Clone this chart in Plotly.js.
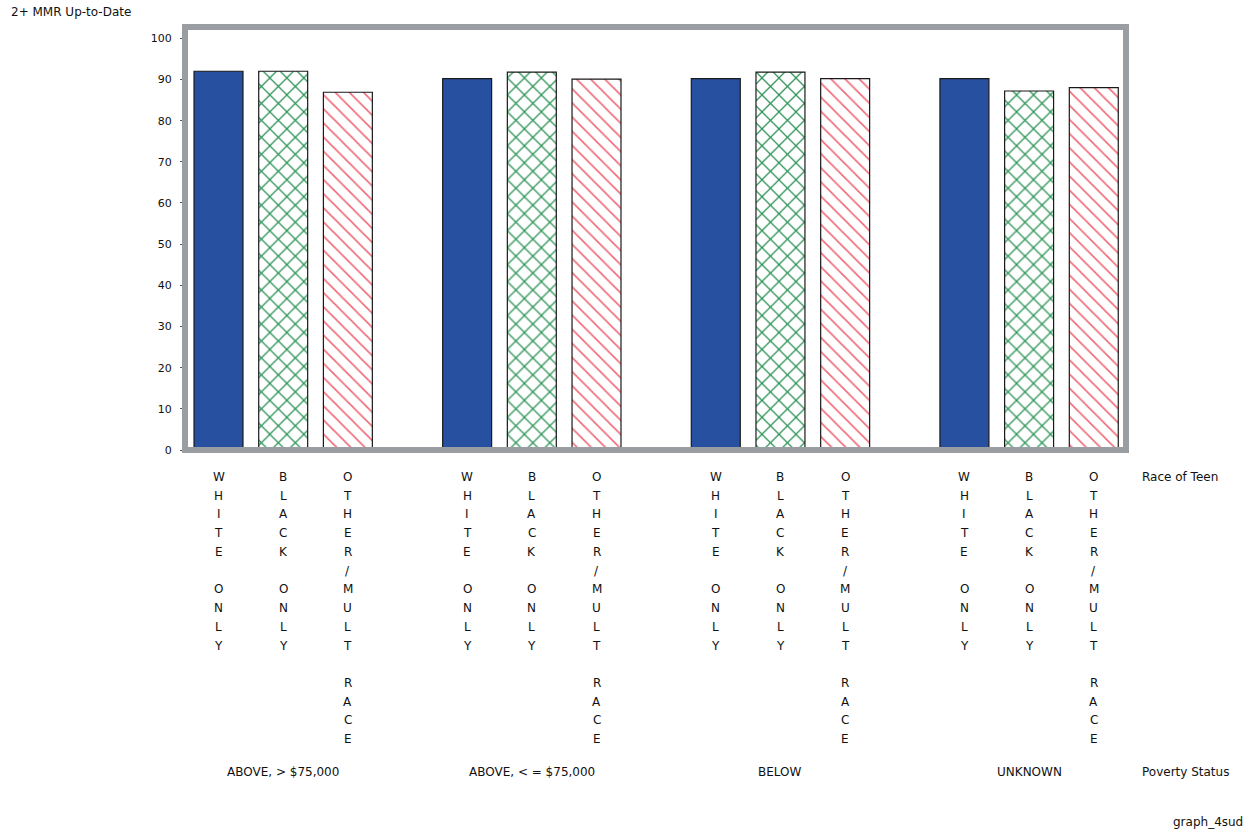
<!DOCTYPE html>
<html>
<head>
<meta charset="utf-8">
<script src="https://cdn.plot.ly/plotly-3.0.1.min.js"></script>
<style>
html,body{margin:0;padding:0;background:#fff;}
#chart{width:1250px;height:833px;}
</style>
</head>
<body>
<div id="chart"></div>
<script>
// ---- data ----
const povertyGroups = ['ABOVE, > $75,000', 'ABOVE, < = $75,000', 'BELOW', 'UNKNOWN'];
const raceLabels = ['WHITE ONLY', 'BLACK ONLY', 'OTHER/MULT RACE'];
const whiteOnly = [92.0, 90.2, 90.2, 90.2];
const blackOnly = [92.0, 91.8, 91.8, 87.2];
const otherMult = [86.9, 90.1, 90.2, 88.0];
const yTickVals = [0, 10, 20, 30, 40, 50, 60, 70, 80, 90, 100];
const yAxisTitle = '2+ MMR Up-to-Date';
const raceAxisTitle = 'Race of Teen';
const groupAxisTitle = 'Poverty Status';
const footnote = 'graph_4sud';

// ---- layout helpers ----
const groupPitch = 3.844;
const barWidth = 0.757;
const FONT = 'DejaVu Sans, Liberation Sans, sans-serif';
const plotTop = 27, plotBottom = 450;
const plotH = plotBottom - plotTop;
function pyToPaper(py) { return (plotBottom - py) / plotH; }
function xPos(g, r) { return g * groupPitch + r; }

const seriesValues = [whiteOnly, blackOnly, otherMult];
const markerStyles = [
  {color: '#2850A0', line: {color: '#1a1a1a', width: 1.2}},
  {color: '#ffffff', line: {color: '#1a1a1a', width: 1.2},
   pattern: {shape: 'x', fgcolor: '#2E9458', bgcolor: '#ffffff', size: 12, solidity: 0.2}},
  {color: '#ffffff', line: {color: '#1a1a1a', width: 1.2},
   pattern: {shape: '\\', fgcolor: '#F06A78', bgcolor: '#ffffff', size: 10, solidity: 0.16}}
];

const traces = raceLabels.map((race, r) => ({
  type: 'bar',
  name: race,
  x: povertyGroups.map((_, g) => xPos(g, r)),
  y: seriesValues[r],
  width: barWidth,
  marker: markerStyles[r],
  hoverinfo: 'y',
  showlegend: false
}));

const LBL = {family: FONT, size: 12, color: '#111'};
const annotations = [];
const letterStart = 477, letterStep = 18.73;
povertyGroups.forEach((grp, g) => {
  raceLabels.forEach((race, r) => {
    race.split('').forEach((ch, i) => {
      if (ch === ' ') return;
      annotations.push({
        xref: 'x', yref: 'paper', x: xPos(g, r), y: pyToPaper(letterStart + i * letterStep),
        text: ch, showarrow: false, xanchor: 'center', yanchor: 'middle', font: LBL
      });
    });
  });
  annotations.push({
    xref: 'x', yref: 'paper', x: xPos(g, 1), y: pyToPaper(772),
    text: grp, showarrow: false, xanchor: 'center', yanchor: 'middle', font: LBL
  });
});
const pxToPaperX = px => (px - 185) / (1126 - 185);
annotations.push({
  xref: 'paper', yref: 'paper', x: pxToPaperX(1140), y: pyToPaper(477),
  text: raceAxisTitle, showarrow: false, xanchor: 'left', yanchor: 'middle', font: LBL
});
annotations.push({
  xref: 'paper', yref: 'paper', x: pxToPaperX(1140), y: pyToPaper(772),
  text: groupAxisTitle, showarrow: false, xanchor: 'left', yanchor: 'middle', font: LBL
});
annotations.push({
  xref: 'paper', yref: 'paper', x: pxToPaperX(1245), y: pyToPaper(822),
  text: footnote, showarrow: false, xanchor: 'right', yanchor: 'middle', font: LBL
});
annotations.push({
  xref: 'paper', yref: 'paper', x: pxToPaperX(9), y: pyToPaper(12),
  text: yAxisTitle, showarrow: false, xanchor: 'left', yanchor: 'middle', font: LBL
});

const layout = {
  width: 1250, height: 833,
  margin: {l: 185, r: 124, t: plotTop, b: 833 - plotBottom, pad: 0},
  paper_bgcolor: '#ffffff',
  plot_bgcolor: '#ffffff',
  barmode: 'overlay',
  xaxis: {
    range: [-0.518, 14.03], showgrid: false, zeroline: false,
    showticklabels: false, ticks: '', showline: false, fixedrange: true
  },
  yaxis: {
    range: [0, 102.75], tickvals: yTickVals, ticks: 'outside', ticklen: 4,
    tickcolor: '#555', tickwidth: 1, showgrid: false, zeroline: false, showline: false,
    ticklabelstandoff: 6,
    tickfont: {family: FONT, size: 11, color: '#111'}
  },
  shapes: [{
    type: 'rect', xref: 'paper', yref: 'paper', x0: 0, x1: 1, y0: 0, y1: 1,
    line: {color: '#9A9EA2', width: 6}, layer: 'above'
  }],
  annotations: annotations
};

Plotly.newPlot('chart', traces, layout, {staticPlot: true, displayModeBar: false});
</script>
</body>
</html>
